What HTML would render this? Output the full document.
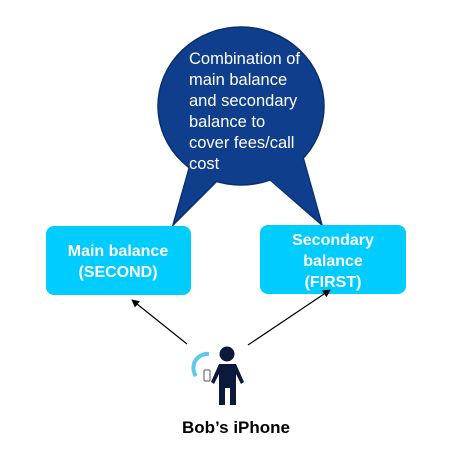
<!DOCTYPE html>
<html><head><style>
body{margin:0;background:#fff;width:463px;height:460px;overflow:hidden}
svg{display:block}
</style></head><body>
<svg width="463" height="460" viewBox="0 0 463 460" xmlns="http://www.w3.org/2000/svg">
<defs><marker id="ah" markerWidth="8" markerHeight="8" refX="7" refY="4" orient="auto" markerUnits="userSpaceOnUse"><path d="M0,0 L8,4 L0,8 z" fill="#000"/></marker></defs>
<g fill="#0f3e8c" stroke="#0a2f6e" stroke-width="1.5">
<path d="M190,165 L173,225 L218,180 Z"/>
<path d="M268,178 L322,225 L303,157 Z"/>
<ellipse cx="241" cy="106" rx="83" ry="79"/>
</g>
<g fill="#0f3e8c">
<path d="M191,163 L175,221 L219,178 Z"/>
<path d="M266,177 L320,221 L302,155 Z"/>
</g>
<g font-family="Liberation Sans, sans-serif" font-size="16.5" fill="#fff">
<text x="189" y="64">Combination of</text>
<text x="189" y="85">main balance</text>
<text x="189" y="106">and secondary</text>
<text x="189" y="127">balance to</text>
<text x="189" y="148">cover fees/call</text>
<text x="189" y="169">cost</text>
</g>
<rect x="46" y="226" width="145" height="69" rx="8" fill="#00ccff"/>
<rect x="260" y="225" width="146" height="69" rx="8" fill="#00ccff"/>
<g font-family="Liberation Sans, sans-serif" font-weight="bold" font-size="16" fill="#fff" text-anchor="middle">
<text x="118" y="256">Main balance</text>
<text x="118" y="277">(SECOND)</text>
<text x="333" y="245">Secondary</text>
<text x="333" y="266">balance</text>
<text x="333" y="287">(FIRST)</text>
</g>
<line x1="187" y1="344" x2="132" y2="300" stroke="#000" stroke-width="1.2" marker-end="url(#ah)"/>
<line x1="248" y1="345" x2="330" y2="290" stroke="#000" stroke-width="1.2" marker-end="url(#ah)"/>
<path d="M196,376 A14,14 0 0 1 209,354" fill="none" stroke="#5bc8ee" stroke-width="4"/>
<g fill="#0b1a3a">
<circle cx="227" cy="354" r="7.5"/>
<path d="M219,364 L236,364 L244,382 L241,384 L236,374 L236,405 L230,405 L230,388 L225,388 L225,405 L219,405 L219,374 L214,384 L211,382 Z"/>
</g>
<rect x="204" y="370" width="6" height="11" rx="1" fill="#fff" stroke="#556" stroke-width="1"/>
<text x="236" y="433" font-family="Liberation Sans, sans-serif" font-weight="bold" font-size="17" text-anchor="middle" fill="#000">Bob’s iPhone</text>
</svg>
</body></html>
